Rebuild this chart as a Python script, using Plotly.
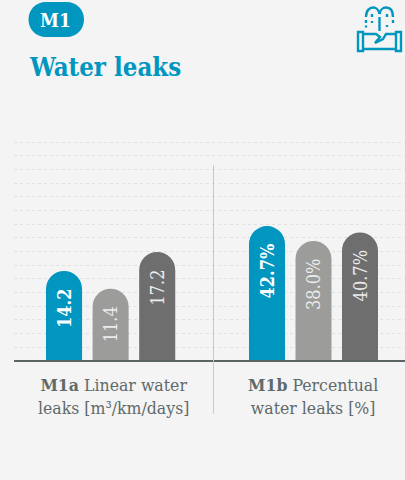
import plotly.graph_objects as go

W, H = 405, 480
BLUE, GRAY, DARK = "#0096c0", "#9c9c9a", "#6e6e6e"
BG = "#f4f4f4"
TXT = "#5f6a6a"
SERIF = "DejaVu Serif Condensed, DejaVu Serif, serif"

items = ["A", "B", "C"]
m1a_values = [14.2, 11.4, 17.2]
m1a_labels = ["<b>14.2</b>", "11.4", "17.2"]
m1b_values = [42.7, 38.0, 40.7]
m1b_labels = ["<b>42.7%</b>", "38.0%", "40.7%"]
bar_colors = [BLUE, GRAY, DARK]
label_colors = ["#ffffff", "#ececec", "#ececec"]
m1a_caption = "<b>M1a</b> Linear water<br>leaks [m³/km/days]"
m1b_caption = "<b>M1b</b> Percentual<br>water leaks [%]"
badge = "M1"
title = "Water leaks"


def px(x):
    return x / W


def py(y):
    return 1 - y / H


def ppath(cmds):
    out = []
    for c in cmds:
        if isinstance(c, str):
            out.append(c)
        else:
            out.append(f"{px(c[0]):.5f},{py(c[1]):.5f}")
    return " ".join(out)


BASE, TOP = 361, 130
ydom = [py(BASE), py(TOP)]
CLEAR = "rgba(0,0,0,0)"
PAD = "\u00a0\u00a0"
fig = go.Figure()
fig.add_trace(go.Scatter(x=[0], y=[0], mode="markers", marker=dict(opacity=0), xaxis="x", yaxis="y",
                         hoverinfo="skip", showlegend=False))
for vals, labs, xa, ya in [(m1a_values, m1a_labels, "x2", "y2"), (m1b_values, m1b_labels, "x3", "y3")]:
    fig.add_trace(go.Bar(x=items, y=vals, text=[t + PAD for t in labs], xaxis=xa, yaxis=ya,
                         marker=dict(color=bar_colors, line=dict(width=0), cornerradius=18),
                         textposition="inside", textangle=-90, insidetextanchor="end",
                         constraintext="none", cliponaxis=False,
                         textfont=dict(family=SERIF, size=18, color=label_colors),
                         showlegend=False))

hidden = dict(showgrid=False, zeroline=False, showticklabels=False, ticks="", showline=False)
fig.update_layout(
    width=W, height=H, margin=dict(l=0, r=0, t=0, b=0), autosize=False,
    paper_bgcolor=BG, plot_bgcolor=CLEAR, bargap=0.226,
    xaxis=dict(domain=[px(14), 1], range=[0, 1], **hidden),
    yaxis=dict(domain=ydom, range=[0, BASE - TOP], anchor="x", tick0=0, dtick=13.67,
               showgrid=True, gridcolor="#e0e0e0", gridwidth=1, griddash="3px,3px",
               zeroline=False, showticklabels=False, ticks="", showline=False),
    xaxis2=dict(domain=[px(40.75), px(180.5)], anchor="y2", type="category", **hidden),
    yaxis2=dict(domain=ydom, range=[0, 231 / 6.34], anchor="x2", **hidden),
    xaxis3=dict(domain=[px(243.75), px(383.25)], anchor="y3", type="category", **hidden),
    yaxis3=dict(domain=ydom, range=[0, 231 / 3.16], anchor="x3", **hidden),
)

shapes = [
    dict(type="line", xref="paper", yref="paper", x0=px(14), x1=1, y0=py(361), y1=py(361),
         line=dict(color="#5a6464", width=2), layer="above"),
    dict(type="line", xref="paper", yref="paper", x0=px(213.5), x1=px(213.5), y0=py(165), y1=py(414),
         line=dict(color="#c9c9c9", width=1), layer="above"),
]
x0, x1, y0, y1 = 28.5, 84, 2, 37
k = 17.5
shapes.append(dict(type="path", xref="paper", yref="paper", fillcolor=BLUE, line=dict(width=0), layer="below",
                   path=ppath(["M", (x0 + k, y0), "L", (x1 - k, y0), "C", (x1 - 7, y0), (x1, y0 + 8), (x1, y0 + k),
                               "C", (x1, y1 - 8), (x1 - 7, y1), (x1 - k, y1), "L", (x0 + k, y1),
                               "C", (x0 + 7, y1), (x0, y1 - 8), (x0, y0 + k), "C", (x0, y0 + 8), (x0 + 7, y0),
                               (x0 + k, y0), "Z"])))
icon = dict(type="path", xref="paper", yref="paper", line=dict(color=BLUE, width=2.4), layer="above")
strokes = [
    ["M", (358, 32), "L", (363, 32), "L", (363, 51), "L", (358, 51), "Z"],
    ["M", (396, 32), "L", (401, 32), "L", (401, 51), "L", (396, 51), "Z"],
    ["M", (363, 34), "L", (376, 34), "L", (380, 37), "L", (375, 43), "L", (383, 39), "L", (386, 34), "L", (396, 34)],
    ["M", (363, 49), "L", (396, 49)],
    ["M", (366, 17), "C", (366, 10), (370, 7.5), (373, 7.5), "C", (376, 7.5), (379, 10), (379.5, 14)],
    ["M", (379.5, 14), "C", (380, 10), (383, 7.5), (386, 7.5), "C", (390, 7.5), (393, 10), (393, 17)],
    ["M", (366, 20), "L", (366, 23)],
    ["M", (366, 25.5), "L", (366, 27.5)],
    ["M", (372, 14), "L", (372, 17)],
    ["M", (372, 21), "L", (372, 23)],
    ["M", (379.5, 17), "L", (379.5, 31)],
    ["M", (387, 14), "L", (387, 17)],
    ["M", (387, 25), "L", (387, 27)],
    ["M", (393, 20), "L", (393, 23)],
]
for s in strokes:
    shapes.append(dict(icon, path=ppath(s)))
fig.update_layout(shapes=shapes)


def note(text, x, y, size, color, anchor="center", family=SERIF):
    fig.add_annotation(text=text, xref="paper", yref="paper", x=px(x), y=py(y), showarrow=False,
                       xanchor=anchor, yanchor="middle", align=anchor,
                       font=dict(family=family, size=size, color=color))


note(f"<b>{badge}</b>", 56, 19.5, 19, "#ffffff")
note(f"<b>{title}</b>", 26.5, 66.5, 25.6, BLUE, anchor="left")
note(m1a_caption, 113, 396, 17.5, TXT)
note(m1b_caption, 313, 396, 17.5, TXT)

fig.write_html("out.html", config={"displayModeBar": False},
               post_script="document.body.style.margin='0';document.body.style.background='#f4f4f4';")
